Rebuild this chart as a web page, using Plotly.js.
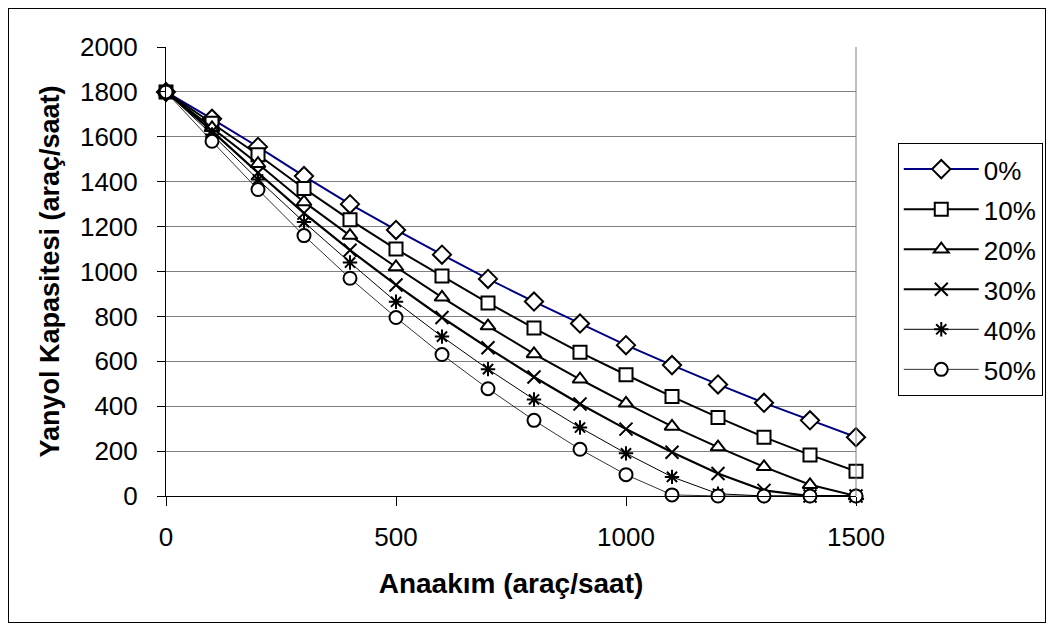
<!DOCTYPE html>
<html><head><meta charset="utf-8">
<script src="https://cdn.plot.ly/plotly-3.0.1.min.js"></script>
<style>
html,body{margin:0;padding:0;background:#fff;}
#wrap{position:relative;width:1054px;height:633px;}
#chart{position:absolute;left:0;top:0;width:1054px;height:633px;}
#frame{position:absolute;left:8px;top:8px;width:1036px;height:613px;border:1px solid #000;pointer-events:none;}
</style></head>
<body><div id="wrap"><div id="chart"></div><div id="frame"></div></div>
<script>
const mainFlow = [0,100,200,300,400,500,600,700,800,900,1000,1100,1200,1300,1400,1500];
const seriesNames = ["0%","10%","20%","30%","40%","50%"];
const cap0  = [1800,1680,1555,1425,1300,1185,1075,967,866,768,672,583,497,415,337,262];
const cap10 = [1800,1660,1520,1370,1230,1100,980,860,748,640,540,443,350,262,183,110];
const cap20 = [1800,1640,1480,1310,1160,1020,885,757,633,520,413,310,218,130,50,0];
const cap30 = [1800,1625,1440,1260,1095,940,795,660,530,410,298,195,100,25,0,0];
const cap40 = [1800,1610,1410,1220,1040,865,710,565,430,305,190,85,10,0,0,0];
const cap50 = [1800,1580,1365,1160,970,795,630,478,337,208,95,5,0,0,0,0];
const yTicks = [0,200,400,600,800,1000,1200,1400,1600,1800,2000];
const xTicks = [0,500,1000,1500];

const data = [cap0,cap10,cap20,cap30,cap40,cap50];
const symbols = ["diamond","square","triangle-up","x-thin","asterisk","circle"];
const lineColors = ["#000080","#000","#000","#000","#000","#000"];
const lineWidths = [2,2,2,2.2,1,0.8];
const mSizes = [14,13,13,13,12,13];

const traces = data.map((ys,i)=>({
  x: mainFlow, y: ys, name: '<span style="font-size:26px">' + seriesNames[i] + '</span>',
  type:'scatter', mode:'lines+markers', cliponaxis:false,
  line:{color:lineColors[i], width:lineWidths[i]},
  marker:{symbol: symbols[i], size:mSizes[i], color: (i===3||i===4)?'#000':'#fff',
          line:{color:'#000', width: 2}}
}));

const layout = {
  width:1054, height:633,
  margin:{l:166, r:197, t:47, b:137},
  paper_bgcolor:'#fff', plot_bgcolor:'#fff',
  font:{family:'Liberation Sans, Arial, sans-serif', color:'#000', size:26},
  showlegend:true,
  legend:{x:1.059, y:0.786, xanchor:'left', yanchor:'top', bordercolor:'#000', borderwidth:1,
          font:{size:28.5}, tracegroupgap:0, itemwidth:75},
  xaxis:{range:[0,1500], tickvals:xTicks, ticktext:xTicks.map(String), ticks:'outside', ticklen:9,
         tickcolor:'#000', showline:true, linecolor:'#000', linewidth:1, showgrid:false, zeroline:false,
         tickfont:{size:26}, ticklabelstandoff:9,
         title:{text:'<b>Anaakım (araç/saat)</b>', font:{size:28}, standoff:22}},
  yaxis:{range:[0,2000], tickvals:yTicks, ticktext:yTicks.map(String), ticks:'outside', ticklen:8,
         tickcolor:'#000', showline:true, linecolor:'#000', linewidth:1, showgrid:true, gridcolor:'#808080',
         gridwidth:1, zeroline:false, tickfont:{size:26}, ticklabelstandoff:14,
         title:{text:'<b>Yanyol Kapasitesi (araç/saat)</b>', font:{size:27}, standoff:12}},
  shapes:[{type:'line', xref:'paper', yref:'paper', x0:1, x1:1, y0:0, y1:1, line:{color:'#808080', width:1}}]
};
Plotly.newPlot('chart', traces, layout, {displayModeBar:false, staticPlot:true});
</script></body></html>
